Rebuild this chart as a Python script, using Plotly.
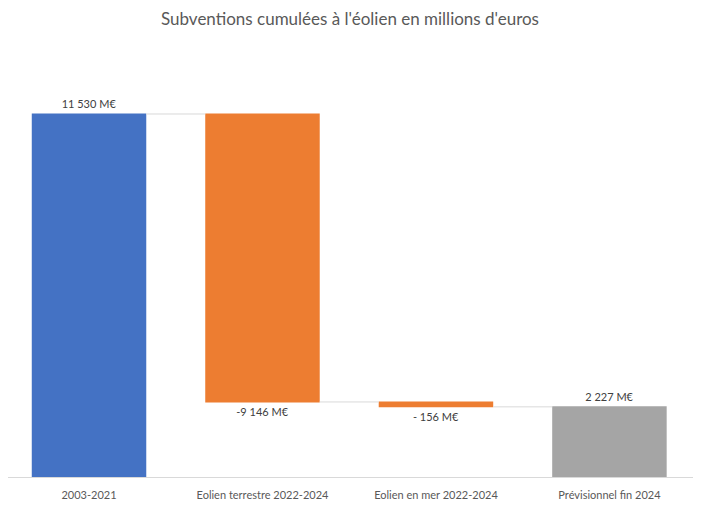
import plotly.graph_objects as go

categories = ["2003-2021", "Eolien terrestre 2022-2024", "Eolien en mer 2022-2024", "Prévisionnel fin 2024"]
values = [11530, -9146, -156, 2227]
measures = ["relative", "relative", "relative", "total"]
labels = ["11 530 M€", "-9 146 M€", "- 156 M€", "2 227 M€"]

fig = go.Figure(go.Waterfall(
    x=categories,
    y=values,
    measure=measures,
    text=labels,
    textposition="outside",
    textfont=dict(size=11, color="#404040"),
    increasing=dict(marker=dict(color="#4472C4")),
    decreasing=dict(marker=dict(color="#ED7D31")),
    totals=dict(marker=dict(color="#A5A5A5")),
    connector=dict(line=dict(color="#D9D9D9", width=1)),
    cliponaxis=False,
    hoverinfo="x+text",
))

# the page has an 8px body margin, so the figure is a bit smaller than the window
fig.update_layout(
    width=693, height=499,
    margin=dict(l=0, r=5, t=52, b=30),
    paper_bgcolor="white", plot_bgcolor="white",
    font=dict(family="Lato, Noto Sans, sans-serif", color="#595959", size=11),
    title=dict(text="Subventions cumulées à l'éolien en millions d'euros",
               x=0.4935, xanchor="center", y=0.977, yanchor="middle",
               font=dict(size=17, color="#595959")),
    waterfallgap=0.34,
    showlegend=False,
)
fig.update_xaxes(range=[-0.467, 3.499], showline=True, linecolor="#D9D9D9", ticks="",
                 automargin=False, ticklabelstandoff=8,
                 tickfont=dict(size=11, color="#595959"))
fig.update_yaxes(range=[0, 13245], visible=False, automargin=False)

fig.write_html("out.html")
